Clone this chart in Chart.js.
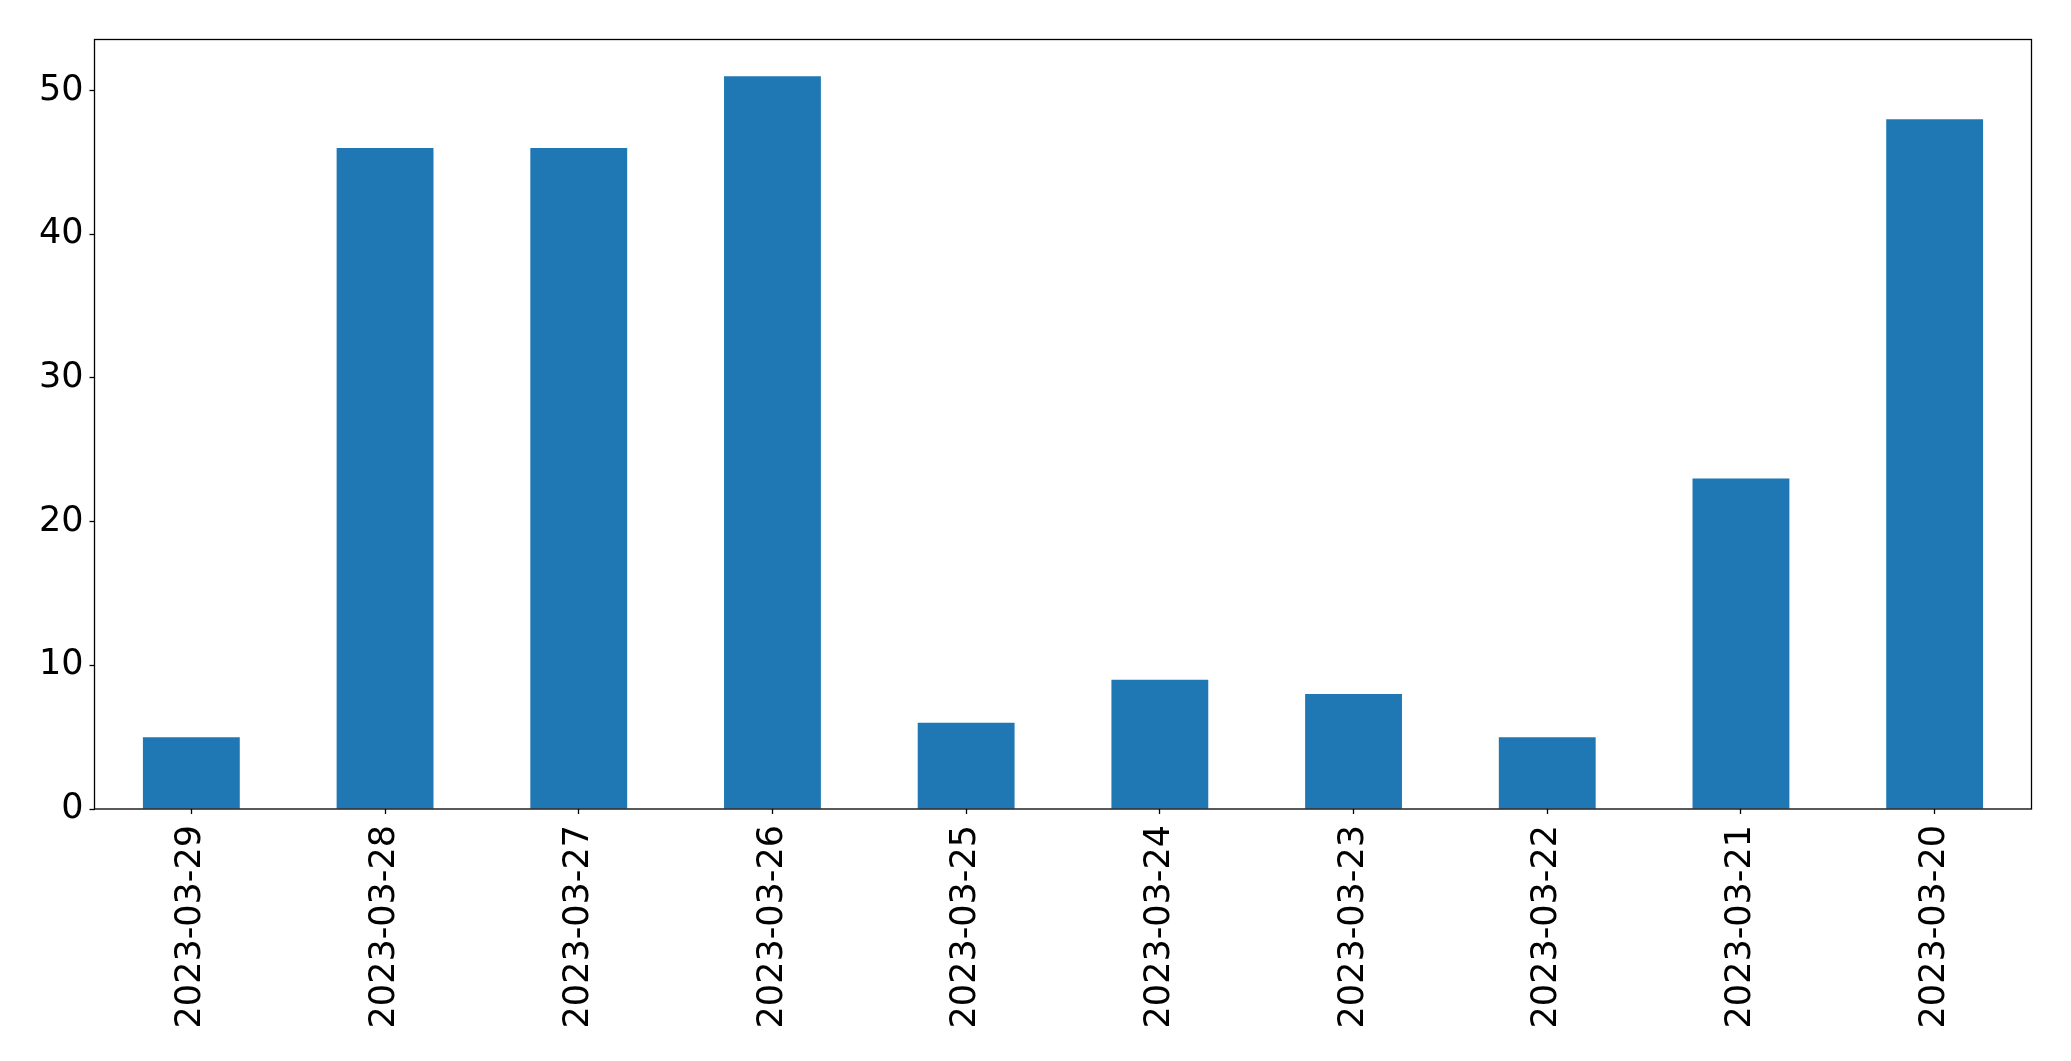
<!DOCTYPE html>
<html>
<head>
<meta charset="utf-8">
<script src="https://cdn.jsdelivr.net/npm/chart.js@4"></script>
<style>
  html, body { margin: 0; padding: 0; background: #fff; }
  #wrap { width: 2071px; height: 1061px; }
</style>
</head>
<body>
<div id="wrap"><canvas id="dayChart" width="2071" height="1061"></canvas></div>
<script>
// counts per day, newest first (as in the source table)
const days = ['2023-03-29', '2023-03-28', '2023-03-27', '2023-03-26', '2023-03-25',
              '2023-03-24', '2023-03-23', '2023-03-22', '2023-03-21', '2023-03-20']
const counts = [5, 46, 46, 51, 6, 9, 8, 5, 23, 48]
const yTicks = [0, 10, 20, 30, 40, 50]

const font = { family: 'DejaVu Sans', size: 35 }

// box round the plot area, like matplotlib spines
const frame = {
    id: 'frame',
    afterDraw(chart) {
        const a = chart.chartArea
        const ctx = chart.ctx
        ctx.save()
        ctx.strokeStyle = '#000'
        ctx.lineWidth = 1.3
        ctx.strokeRect(a.left, a.top, a.right - a.left, a.bottom - a.top)
        ctx.restore()
    }
}

const ctx = document.getElementById('dayChart').getContext('2d')
const myChart = new Chart(ctx, {
    type: 'bar',
    data: {
        labels: days,
        datasets: [{
            label: 'count',
            backgroundColor: '#1f77b4',
            data: counts,
            barPercentage: 0.5,
            categoryPercentage: 1.0
        }]
    },
    options: {
        responsive: false,
        animation: false,
        layout: { padding: { left: 0, top: 39.5, right: 39.5, bottom: 0 } },
        plugins: {
            legend: { display: false },
            title: { display: false },
            tooltip: { enabled: false }
        },
        scales: {
            x: {
                border: { display: false },
                grid: { display: true, offset: false, drawOnChartArea: false, tickLength: 5, tickColor: '#000', tickWidth: 1.3 },
                ticks: { color: '#000', font: font, minRotation: 90, maxRotation: 90, padding: 11, autoSkip: false },
                afterFit(scale) { scale.height = 252 }
            },
            y: {
                min: 0,
                max: 53.55,
                border: { display: false },
                grid: { display: true, drawOnChartArea: false, tickLength: 5, tickColor: '#000', tickWidth: 1.3 },
                ticks: { color: '#000', font: font, stepSize: 10, includeBounds: false, padding: 6 },
                afterBuildTicks(scale) { scale.ticks = yTicks.map(v => ({ value: v })) },
                afterFit(scale) { scale.width = 94.5 }
            }
        }
    },
    plugins: [frame]
})
</script>
</body>
</html>
